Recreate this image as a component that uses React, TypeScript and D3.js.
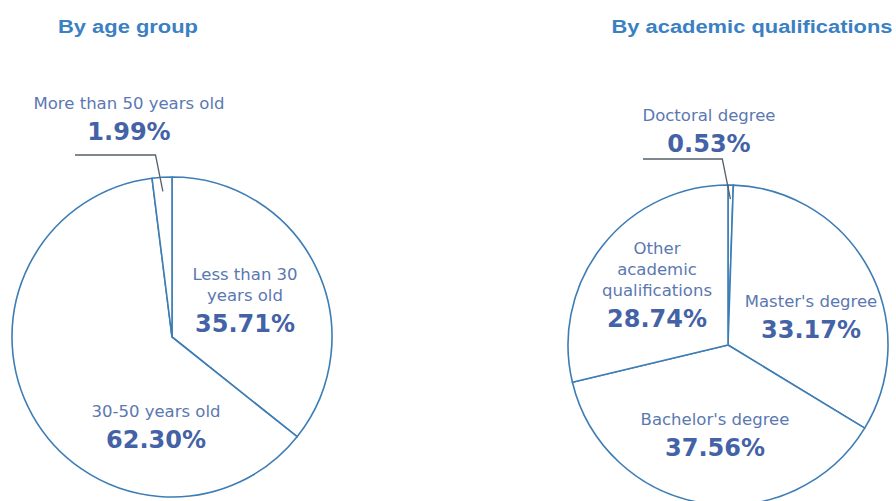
import React from "react";
import * as d3 from "d3";

const ageLabels: string[][] = [["Less than 30", "years old"], ["30-50 years old"], ["More than 50 years old"]];
const ageValues: number[] = [35.71, 62.3, 1.99];
const eduLabels: string[][] = [["Doctoral degree"], ["Master's degree"], ["Bachelor's degree"], ["Other", "academic", "qualifications"]];
const eduValues: number[] = [0.53, 33.17, 37.56, 28.74];
const titles: string[] = ["By age group", "By academic qualifications"];

const W = 896;
const H = 501;
const R = 160;
const STROKE = "#3d7db5";
const LABEL = "#5a78b2";
const PCT = "#4462a6";
const TITLE = "#3a80c2";
const LEADER = "#56606c";

type PieCfg = {
  title: string;
  titleX: number;
  titleW: number;
  cx: number;
  cy: number;
  labels: string[][];
  values: number[];
  anchors: [number, number][]; // percent baseline offsets from center
  leaderIdx: number;
  leaderX0: number;
  leaderY: number;
};

const pies: PieCfg[] = [
  {
    title: titles[0],
    titleX: 128,
    titleW: 140,
    cx: 172,
    cy: 337,
    labels: ageLabels,
    values: ageValues,
    anchors: [[73, -5], [-16, 111], [-43, -197]],
    leaderIdx: 2,
    leaderX0: 75,
    leaderY: 155,
  },
  {
    title: titles[1],
    titleX: 752,
    titleW: 281,
    cx: 728,
    cy: 345,
    labels: eduLabels,
    values: eduValues,
    anchors: [[-19, -193], [83, -7], [-13, 111], [-71, -18]],
    leaderIdx: 0,
    leaderX0: 643,
    leaderY: 159,
  },
];

function Pie({ cfg }: { cfg: PieCfg }) {
  const arcs = d3.pie<number>().sort(null).startAngle(0).endAngle(2 * Math.PI)(cfg.values);
  const arc = d3.arc<d3.PieArcDatum<number>>().innerRadius(0).outerRadius(R);
  const la = arcs[cfg.leaderIdx];
  const mid = (la.startAngle + la.endAngle) / 2;
  const lr = R - 14;
  const ex = cfg.cx + lr * Math.sin(mid);
  const ey = cfg.cy - lr * Math.cos(mid);
  const bendX = ex - (ey - cfg.leaderY) * Math.tan(0.2);
  return (
    <g>
      <text
        x={cfg.titleX}
        y={33}
        textAnchor="middle"
        fontFamily="'Liberation Sans', Arial, sans-serif"
        fontWeight="bold"
        fontSize={18}
        fill={TITLE}
        textLength={cfg.titleW}
        lengthAdjust="spacingAndGlyphs"
      >
        {cfg.title}
      </text>
      <g transform={`translate(${cfg.cx},${cfg.cy})`}>
        {arcs.map((a, i) => (
          <path key={i} d={arc(a) || ""} fill="#ffffff" stroke={STROKE} strokeWidth={1.6} strokeLinejoin="round" />
        ))}
      </g>
      <polyline
        points={`${cfg.leaderX0},${cfg.leaderY} ${bendX},${cfg.leaderY} ${ex},${ey}`}
        fill="none"
        stroke={LEADER}
        strokeWidth={1.3}
      />
      {arcs.map((a, i) => {
        const [dx, dy] = cfg.anchors[i];
        const x = cfg.cx + dx;
        const yp = cfg.cy + dy;
        const lines = cfg.labels[i];
        return (
          <g key={i}>
            {lines.map((ln, j) => (
              <text
                key={j}
                x={x}
                y={yp - 31 - (lines.length - 1 - j) * 21}
                textAnchor="middle"
                fontFamily="'DejaVu Sans', sans-serif"
                fontSize={16.5}
                fill={LABEL}
              >
                {ln}
              </text>
            ))}
            <text
              x={x}
              y={yp}
              textAnchor="middle"
              fontFamily="'DejaVu Sans', sans-serif"
              fontWeight="bold"
              fontSize={24}
              fill={PCT}
            >
              {cfg.values[i].toFixed(2) + "%"}
            </text>
          </g>
        );
      })}
    </g>
  );
}

export default function App() {
  return (
    <svg
      width={W}
      height={H}
      viewBox={`0 0 ${W} ${H}`}
      style={{ position: "absolute", left: 0, top: 0, background: "#ffffff" }}
    >
      <rect x={0} y={0} width={W} height={H} fill="#ffffff" />
      {pies.map((p, i) => (
        <Pie key={i} cfg={p} />
      ))}
    </svg>
  );
}
